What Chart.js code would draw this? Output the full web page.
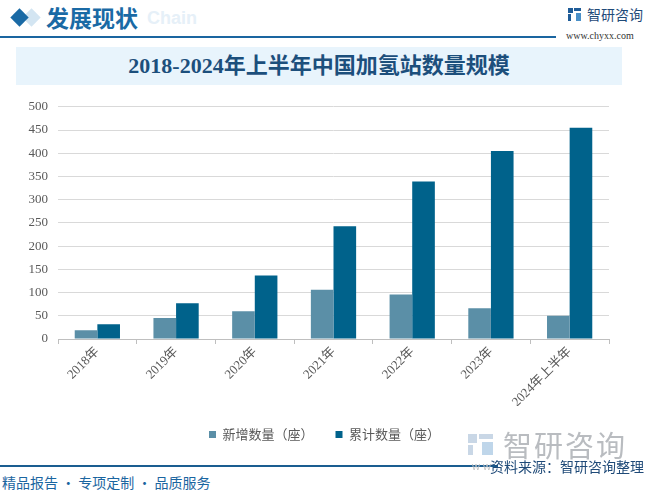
<!DOCTYPE html>
<html>
<head>
<meta charset="utf-8">
<script src="https://cdn.jsdelivr.net/npm/chart.js@4.4.1/dist/chart.umd.min.js"></script>
<style>
  html,body{margin:0;padding:0;background:#fff;}
  body{width:649px;height:493px;position:relative;overflow:hidden;font-family:"Noto Sans CJK SC","Noto Sans",sans-serif;}
  .abs{position:absolute;}
  #hdrline{left:0;top:36px;width:556px;height:2px;background:#1a65a0;}
  #title{left:16px;top:47px;width:606px;height:38px;background:#e8f4fc;color:#1c4f7c;font-weight:bold;font-size:22px;line-height:38px;text-align:center;font-family:"Liberation Serif","Noto Sans CJK SC",serif;}
  #foot{left:0;top:465px;width:498px;height:1.5px;background:#1a5d90;}
  canvas{position:absolute;left:0;top:89px;}
</style>
</head>
<body>
<!-- header -->
<div class="abs" style="left:25px;top:11px;width:13px;height:13px;background:#d3e5f2;transform:rotate(45deg);"></div>
<div class="abs" style="left:13px;top:11px;width:13px;height:13px;background:#1a6aa5;transform:rotate(45deg);"></div>
<div class="abs" style="left:147px;top:8px;font:bold 18px 'Liberation Sans',Arial,sans-serif;color:#e6f0f8;">Chain</div>
<div class="abs" style="left:46px;top:1px;font-size:23px;font-weight:bold;color:#1a6aa5;line-height:32px;">发展现状</div>
<div class="abs" id="hdrline"></div>
<div class="abs" style="left:568px;top:8px;width:5px;height:5px;background:#1f5c98;"></div>
<div class="abs" style="left:574px;top:8px;width:7px;height:3px;background:#1f5c98;"></div>
<div class="abs" style="left:568px;top:14px;width:3px;height:7px;background:#1f5c98;"></div>
<div class="abs" style="left:576px;top:13px;width:5px;height:8px;background:#4a90c8;"></div>
<div class="abs" style="left:587px;top:4px;font-size:14px;color:#1f4a78;line-height:20px;">智研咨询</div>
<div class="abs" style="left:566px;top:30px;font-size:10px;color:#333;font-family:'Liberation Serif',serif;line-height:12px;">www.chyxx.com</div>
<div class="abs" id="title">2018-2024年上半年中国加氢站数量规模</div>

<canvas id="c" width="649" height="362"></canvas>

<!-- footer -->
<div class="abs" style="left:468px;top:434px;width:9px;height:9px;background:#c9d7e6;"></div>
<div class="abs" style="left:479px;top:434px;width:14px;height:5px;background:#c9d7e6;"></div>
<div class="abs" style="left:468px;top:445px;width:5px;height:10px;background:#c9d7e6;"></div>
<div class="abs" style="left:482px;top:442px;width:11px;height:13px;background:#bfd6ea;"></div>
<div class="abs" style="left:503px;top:427px;font-size:29px;color:#b9bcc0;line-height:34px;letter-spacing:2px;">智研咨询</div>
<div class="abs" id="foot"></div>
<div class="abs" style="left:472px;top:459px;font-size:11px;color:#c4c4c4;font-family:'Liberation Sans',sans-serif;line-height:14px;">w w</div>
<div class="abs" style="right:5px;top:457px;font-size:14px;color:#1f4a78;line-height:18px;">资料来源：智研咨询整理</div>
<div class="abs" style="left:2px;top:473px;font-size:14px;color:#1a65a0;line-height:18px;">精品报告 · 专项定制 · 品质服务</div>

<script>
const categories = ["2018年","2019年","2020年","2021年","2022年","2023年","2024年上半年"];
const newStations = [19, 45, 60, 106, 96, 66, 50];
const cumulativeStations = [32, 77, 137, 243, 339, 405, 455];
const seriesNames = ["新增数量（座）","累计数量（座）"];

const tickFont = {family:"'Liberation Serif','Noto Sans CJK SC',serif", size:13};
const legendShift = {
  id:'legendShift',
  afterLayout(chart){ if(chart.legend){ chart.legend.left += 20; chart.legend.right += 20; } }
};
new Chart(document.getElementById('c'), {
  type:'bar',
  data:{
    labels:categories,
    datasets:[
      {label:seriesNames[0], data:newStations, backgroundColor:'#5b8fa7', categoryPercentage:0.575, barPercentage:1.0},
      {label:seriesNames[1], data:cumulativeStations, backgroundColor:'#00628b', categoryPercentage:0.575, barPercentage:1.0}
    ]
  },
  plugins:[legendShift],
  options:{
    responsive:false,
    animation:false,
    layout:{padding:{left:0,right:40,top:10,bottom:0}},
    plugins:{
      tooltip:{enabled:false},
      legend:{
        position:'bottom',
        labels:{boxWidth:7,boxHeight:7,padding:22,color:'#595959',font:{family:"'Noto Sans CJK SC',sans-serif",size:13}}
      }
    },
    scales:{
      x:{
        grid:{drawOnChartArea:false,offset:true,tickLength:5,color:'#bfbfbf'},
        border:{color:'#bfbfbf'},
        ticks:{color:'#595959',font:tickFont,maxRotation:45,minRotation:45,padding:0},
        afterFit(s){s.height=67;}
      },
      y:{
        min:0,max:500,
        grid:{color:'#d9d9d9',drawTicks:false},
        border:{display:false},
        ticks:{stepSize:50,color:'#595959',font:tickFont,padding:10},
        afterFit(s){s.width=58;}
      }
    }
  }
});
</script>
</body>
</html>
